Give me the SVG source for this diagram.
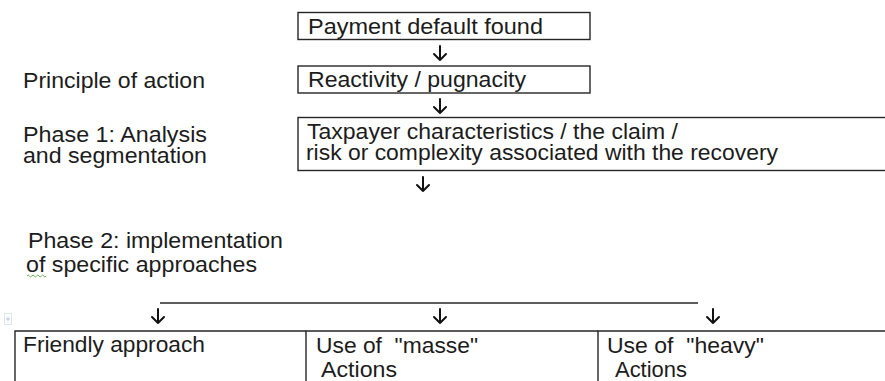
<svg xmlns="http://www.w3.org/2000/svg" width="885" height="381" viewBox="0 0 885 381">
  <style>
    text { font-family: "Liberation Sans", Arial, sans-serif; font-size: 21.5px; fill: #1c1c1c; white-space: pre; }
    .box { fill: #ffffff; stroke: #262626; stroke-width: 1.4; }
    .line { fill: none; stroke: #262626; stroke-width: 1.4; }
    .arrow { fill: none; stroke: #111111; stroke-width: 2; stroke-linecap: round; stroke-linejoin: round; }
  </style>
  <defs>
    <!-- down arrow glyph, drawn with its tip at the origin -->
    <path id="down" class="arrow" d="M0,-14 V0 M-6,-6 L0,0 L6,-6"/>
  </defs>
  <rect width="885" height="381" fill="#ffffff"/>

  <!-- side labels -->
  <g id="label-principle"><text x="23" y="88" textLength="182" lengthAdjust="spacingAndGlyphs">Principle of action</text></g>
  <g id="label-phase1">
    <text x="23" y="142" textLength="184" lengthAdjust="spacingAndGlyphs">Phase 1: Analysis</text>
    <text x="23" y="163" textLength="184" lengthAdjust="spacingAndGlyphs">and segmentation</text>
  </g>
  <g id="label-phase2">
    <text x="28" y="248" textLength="255" lengthAdjust="spacingAndGlyphs">Phase 2: implementation</text>
    <text x="26" y="272" textLength="231" lengthAdjust="spacingAndGlyphs">of specific approaches</text>
    <path d="M27,276 q1.2,-2 2.4,0 t2.4,0 t2.4,0 t2.4,0 t2.4,0 t2.4,0 t2.4,0 t2.4,0" fill="none" stroke="#6fae5a" stroke-width="1"/>
  </g>

  <!-- flow boxes -->
  <g id="node-default">
    <rect class="box" x="298" y="12.5" width="292" height="27"/>
    <text x="308" y="34" textLength="235" lengthAdjust="spacingAndGlyphs">Payment default found</text>
  </g>
  <g id="node-reactivity">
    <rect class="box" x="298" y="66" width="292" height="27"/>
    <text x="308" y="87" textLength="218" lengthAdjust="spacingAndGlyphs">Reactivity / pugnacity</text>
  </g>
  <g id="node-analysis">
    <rect class="box" x="298" y="117.5" width="600" height="53"/>
    <text x="307" y="139" textLength="371" lengthAdjust="spacingAndGlyphs">Taxpayer characteristics / the claim /</text>
    <text x="306" y="160" textLength="472" lengthAdjust="spacingAndGlyphs">risk or complexity associated with the recovery</text>
  </g>

  <!-- approaches table -->
  <g id="table-handle">
    <rect x="4.5" y="313.5" width="7" height="11" fill="none" stroke="#dde5f0" stroke-width="1"/>
    <path d="M6,319 H10 M8,317 V321" stroke="#b9c8e0" stroke-width="1"/>
  </g>
  <g id="node-friendly">
    <path class="line" d="M15,381 V331 H306"/>
    <text x="23" y="352" textLength="182" lengthAdjust="spacingAndGlyphs">Friendly approach</text>
  </g>
  <g id="node-masse">
    <path class="line" d="M306,381 V331 H598"/>
    <text x="316" y="353" textLength="162" lengthAdjust="spacingAndGlyphs">Use of  "masse"</text>
    <text x="321" y="377" textLength="76" lengthAdjust="spacingAndGlyphs">Actions</text>
  </g>
  <g id="node-heavy">
    <path class="line" d="M598,381 V331 H885"/>
    <text x="607" y="353" textLength="157" lengthAdjust="spacingAndGlyphs">Use of  "heavy"</text>
    <text x="615" y="377" textLength="72" lengthAdjust="spacingAndGlyphs">Actions</text>
  </g>

  <!-- connectors -->
  <g id="connectors">
    <use href="#down" x="440" y="60"/>
    <use href="#down" x="440" y="113"/>
    <use href="#down" x="423" y="191"/>
    <path class="line" d="M160,303 H698"/>
    <use href="#down" x="158" y="323"/>
    <use href="#down" x="440" y="323"/>
    <use href="#down" x="713" y="323"/>
  </g>
</svg>
